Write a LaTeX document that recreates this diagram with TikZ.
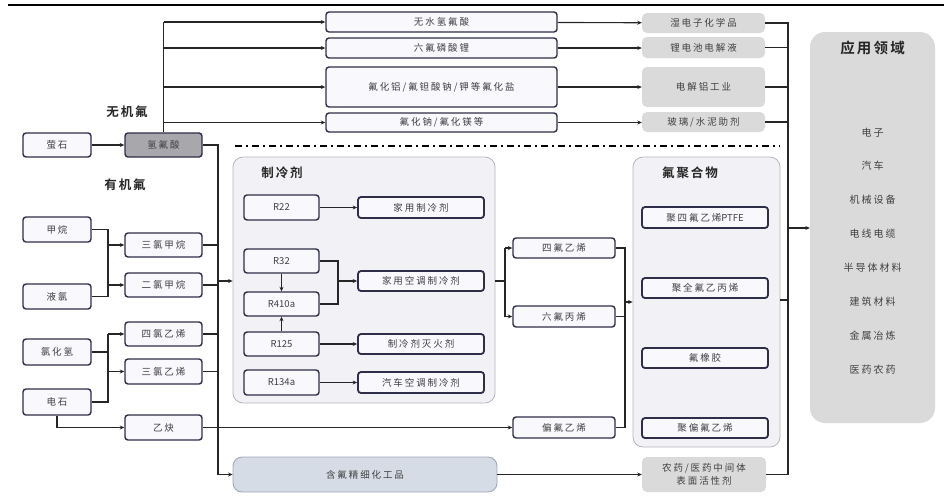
\documentclass[tikz,border=0pt]{standalone}
\usepackage{fontspec}
\setmainfont{Noto Sans CJK SC}
\newfontfamily\cjk[LetterSpace=20]{Noto Sans CJK SC}
\newfontfamily\cjkb[LetterSpace=15]{Noto Sans CJK SC Bold}
\usetikzlibrary{arrows.meta}
\definecolor{bord}{HTML}{2E2E48}
\definecolor{wfill}{HTML}{F8F8FD}
\definecolor{txt}{HTML}{404040}
\definecolor{gfill}{HTML}{DADADA}
\definecolor{cfill}{HTML}{F2F2F6}
\definecolor{cbord}{HTML}{B4B4BC}
\definecolor{bfill}{HTML}{D6DCE6}
\definecolor{bbord}{HTML}{A0A8B8}
\definecolor{hffill}{HTML}{A8A8AC}
\tikzset{
  x=1pt,y=-1pt,
  wbox/.style={draw=bord,fill=wfill,line width=1.4pt,rounded corners=3pt,inner sep=0pt,
    font=\cjk\fontsize{9.5}{11}\selectfont,text=txt},
  rbox/.style={wbox,font=\normalfont\fontsize{9.5}{11}\selectfont},
  gbox/.style={fill=gfill,rounded corners=5pt,inner sep=0pt,
    font=\cjk\fontsize{9.5}{11}\selectfont,text=txt},
  cont/.style={draw=cbord,fill=cfill,line width=0.8pt,rounded corners=10pt,inner sep=0pt},
  lbl/.style={font=\cjkb\fontsize{12.5}{14}\selectfont,text=black!85,inner sep=1pt},
  conn/.style={draw=black!85,line width=1.1pt},
  arr/.style={conn,-{Stealth[length=4.5pt,width=4pt]}},
  appitem/.style={font=\cjk\fontsize{10}{12}\selectfont,text=txt,inner sep=0pt},
}
\begin{document}
\begin{tikzpicture}
\useasboundingbox (0,0) rectangle (944,499);
% top rule
\coordinate (tl) at (8,5);
\coordinate (tr) at (944,5);
\draw[line width=2.2pt] (tl) -- (tr);

% containers
\node[cont,minimum width=262pt,minimum height=246pt] (refc) at (364,280) {};
\node[cont,minimum width=147pt,minimum height=290pt] (polc) at (706.5,302) {};
\node[fill=gfill,rounded corners=15pt,minimum width=125pt,minimum height=391pt] (app) at (872.5,227.5) {};

% labels
\node[lbl] (wjf) at (127,112) {无机氟};
\node[lbl] (yjf) at (125,185) {有机氟};
\node[lbl] (zlj) at (282,173) {制冷剂};
\node[lbl] (fjhw) at (690,173) {氟聚合物};
\node[font=\cjkb\fontsize{14.5}{16}\selectfont,text=black!85] (yyly) at (872.5,48) {应用领域};

% app items
\node[appitem] (a1) at (872.5,133) {电子};
\node[appitem] (a2) at (872.5,166) {汽车};
\node[appitem] (a3) at (872.5,200) {机械设备};
\node[appitem] (a4) at (872.5,234) {电线电缆};
\node[appitem] (a5) at (872.5,268) {半导体材料};
\node[appitem] (a6) at (872.5,302) {建筑材料};
\node[appitem] (a7) at (872.5,336) {金属冶炼};
\node[appitem] (a8) at (872.5,370) {医药农药};

% dash-dot line
\coordinate (dl) at (235,146);
\coordinate (dr) at (780,146);
\draw[line width=1.3pt,dash pattern=on 7pt off 4pt on 2pt off 4pt] (dl) -- (dr);

% left boxes
\node[wbox,minimum width=68pt,minimum height=24pt] (ys) at (57,145) {萤石};
\node[wbox,fill=hffill,minimum width=77pt,minimum height=24pt] (hf) at (163.5,145) {氢氟酸};

% inorganic
\node[wbox,minimum width=231pt,minimum height=20pt] (i1) at (441.5,22) {无水氢氟酸};
\node[wbox,minimum width=231pt,minimum height=20pt] (i2) at (441.5,48) {六氟磷酸锂};
\node[wbox,minimum width=231pt,minimum height=40pt] (i3) at (441.5,87) {氟化铝/氟钽酸钠/钾等氟化盐};
\node[wbox,minimum width=231pt,minimum height=19pt] (i4) at (441.5,122.5) {氟化钠/氟化镁等};
\node[gbox,minimum width=123pt,minimum height=20pt] (o1) at (703.5,23) {湿电子化学品};
\node[gbox,minimum width=123pt,minimum height=21pt] (o2) at (703.5,47.5) {锂电池电解液};
\node[gbox,minimum width=123pt,minimum height=40pt] (o3) at (703.5,87) {电解铝工业};
\node[gbox,minimum width=123pt,minimum height=20pt] (o4) at (703.5,122) {玻璃/水泥助剂};

% organic
\node[wbox,minimum width=68pt,minimum height=25pt] (jw) at (57,229.5) {甲烷};
\node[wbox,minimum width=68pt,minimum height=25pt] (yl) at (57,296.5) {液氯};
\node[wbox,minimum width=77pt,minimum height=24pt] (sqjw) at (163.5,245) {三氯甲烷};
\node[wbox,minimum width=77pt,minimum height=24pt] (eqjw) at (163.5,285) {二氯甲烷};
\node[wbox,minimum width=77pt,minimum height=24pt] (sqyx) at (163.5,334) {四氯乙烯};
\node[wbox,minimum width=68pt,minimum height=26pt] (hqh) at (57,352) {氯化氢};
\node[wbox,minimum width=77pt,minimum height=25pt] (sanq) at (163.5,371.5) {三氯乙烯};
\node[wbox,minimum width=68pt,minimum height=26pt] (ds) at (57,402) {电石};
\node[wbox,minimum width=77pt,minimum height=25pt] (yq) at (163.5,427.5) {乙炔};

% refrigerants
\node[rbox,minimum width=75pt,minimum height=25pt] (r22) at (281.5,207.5) {R22};
\node[rbox,minimum width=75pt,minimum height=24pt] (r32) at (281.5,261) {R32};
\node[rbox,minimum width=75pt,minimum height=24pt] (r410) at (281.5,304) {R410a};
\node[rbox,minimum width=75pt,minimum height=24pt] (r125) at (281.5,344) {R125};
\node[rbox,minimum width=75pt,minimum height=25pt] (r134) at (281.5,382.5) {R134a};
\node[wbox,line width=1.8pt,minimum width=126pt,minimum height=21pt] (jy) at (421,207.5) {家用制冷剂};
\node[wbox,line width=1.8pt,minimum width=126pt,minimum height=20pt] (jykt) at (421,281) {家用空调制冷剂};
\node[wbox,line width=1.8pt,minimum width=126pt,minimum height=20pt] (mhj) at (421,344) {制冷剂灭火剂};
\node[wbox,line width=1.8pt,minimum width=126pt,minimum height=21pt] (qckt) at (421,382.5) {汽车空调制冷剂};

% fine chemicals
\node[draw=bbord,fill=bfill,line width=0.9pt,rounded corners=9pt,minimum width=264pt,minimum height=35pt,
  font=\cjk\fontsize{9.5}{11}\selectfont,text=txt] (fc) at (365,474.5) {含氟精细化工品};
\node[gbox,minimum width=124pt,minimum height=35pt,align=center,font=\cjk\fontsize{9.5}{13}\selectfont] (ny) at (704,474.5) {农药/医药中间体\\表面活性剂};

% monomers
\node[wbox,minimum width=102pt,minimum height=20pt] (tfe) at (564,248) {四氟乙烯};
\node[wbox,minimum width=102pt,minimum height=21pt] (hfp) at (564,316.5) {六氟丙烯};
\node[wbox,minimum width=102pt,minimum height=21pt] (vdf) at (564,427.5) {偏氟乙烯};

% polymers
\node[wbox,line width=1.8pt,minimum width=126pt,minimum height=21pt] (ptfe) at (705,217.5) {聚四氟乙烯{\normalfont PTFE}};
\node[wbox,line width=1.8pt,minimum width=126pt,minimum height=20pt] (fep) at (705,288) {聚全氟乙丙烯};
\node[wbox,line width=1.8pt,minimum width=126pt,minimum height=20pt] (fkm) at (705,358) {氟橡胶};
\node[wbox,line width=1.8pt,minimum width=126pt,minimum height=20pt] (pvdf) at (705,428) {聚偏氟乙烯};

% ===== connectors =====
\draw[arr] (ys) -- (hf);
% inorganic branch
\coordinate (iv) at (163.5,22);
\draw[conn] (hf.north) -- (iv);
\draw[arr] (iv) -- (i1.west);
\draw[arr] (hf.north |- i2.west) -- (i2.west);
\draw[arr] (hf.north |- i3.west) -- (i3.west);
\draw[arr] (hf.north |- i4.west) -- (i4.west);
\draw[arr] (i1) -- (o1);
\draw[arr] (i2.east) -- (o2.west |- i2.east);
\draw[arr] (i3) -- (o3);
\draw[arr] (i4.east) -- (o4.west |- i4.east);
% right collector
\coordinate (rv) at (788,23);
\coordinate (rvb) at (788,474.5);
\draw[conn] (o1.east) -- (rv) -- (rvb) -- (ny.east);
\draw[conn] (o2.east) -- (o2.east -| rv);
\draw[conn] (o3.east) -- (o3.east -| rv);
\draw[conn] (o4.east) -- (o4.east -| rv);
\draw[conn] (polc.east |- 0,300) -- (788,300);
\draw[arr] (788,228) -- (app.west |- 0,228);

% HF down trunk
\coordinate (hv) at (218,145);
\coordinate (hvb) at (218,474.5);
\draw[conn] (hf.east) -- (hv) -- (hvb);
\draw[arr] (hvb) -- (fc.west);
\draw[arr] (218,281) -- (refc.west |- 0,281);
\draw[conn] (sqjw.east) -- (sqjw.east -| hv);
\draw[conn] (eqjw.east) -- (eqjw.east -| hv);
\draw[conn] (sqyx.east) -- (sqyx.east -| hv);
\draw[conn] (sanq.east) -- (sanq.east -| hv);

% organic feeds
\coordinate (j1) at (108,229.5);
\coordinate (j2) at (108,296.5);
\draw[conn] (jw.east) -- (j1) -- (j2) -- (yl.east);
\draw[arr] (108,245) -- (sqjw.west);
\draw[arr] (108,285) -- (eqjw.west);
\coordinate (j3) at (108,334);
\coordinate (j4) at (108,402);
\draw[conn] (hqh.east) -- (108,352);
\draw[conn] (ds.east) -- (j4) -- (j3);
\draw[arr] (j3) -- (sqyx.west);
\draw[arr] (108,371.5) -- (sanq.west);
\coordinate (dsb) at (57,427.5);
\draw[arr] (ds.south) -- (dsb) -- (yq.west);
\draw[arr] (yq.east) -- (vdf.west);

% refrigerant internal
\draw[arr] (r22) -- (jy);
\coordinate (rj1) at (338,261);
\coordinate (rj2) at (338,304);
\draw[conn] (r32.east) -- (rj1) -- (rj2) -- (r410.east);
\draw[arr] (338,281) -- (jykt.west);
\draw[arr] (r32.south) -- (r410.north);
\draw[arr] (r125.north) -- (r410.south);
\draw[arr] (r125) -- (mhj);
\draw[arr] (r134) -- (qckt);

% monomers
\coordinate (mj1) at (505,248);
\coordinate (mj2) at (505,316.5);
\draw[conn] (refc.east |- 0,281) -- (505,281);
\draw[conn] (mj1) -- (mj2);
\draw[arr] (mj1) -- (tfe.west);
\draw[arr] (mj2) -- (hfp.west);
\coordinate (mk1) at (625,248);
\coordinate (mk2) at (625,427.5);
\draw[conn] (tfe.east) -- (mk1) -- (mk2) -- (vdf.east);
\draw[conn] (hfp.east) -- (hfp.east -| mk1);
\draw[arr] (625,302) -- (polc.west |- 0,302);

% fine chem
\draw[arr] (fc.east) -- (ny.west);
\end{tikzpicture}
\end{document}
